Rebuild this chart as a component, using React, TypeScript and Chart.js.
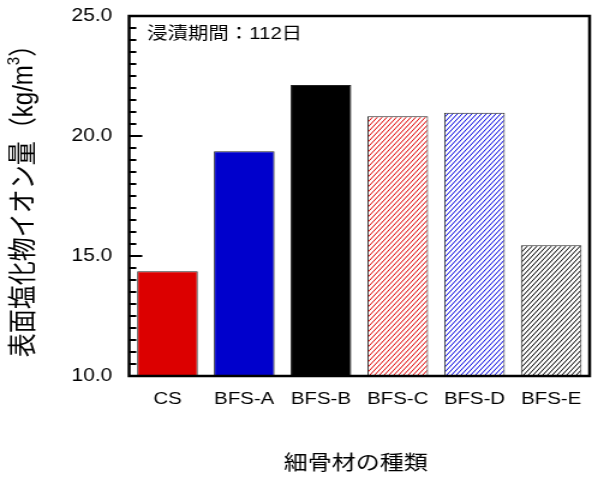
import React, { useEffect, useRef } from 'react';
import { Chart, registerables } from 'chart.js';

Chart.register(...registerables);

// ---- data ----
const categories = ['CS', 'BFS-A', 'BFS-B', 'BFS-C', 'BFS-D', 'BFS-E'];
const values = [14.36, 19.36, 22.13, 20.82, 20.97, 15.45];
const barColors = ['#dc0000', '#0000cc', '#000000', '#e00000', '#0000e0', '#000000'];
const barHatched = [false, false, false, true, true, true];
const yMin = 10;
const yMax = 25;
const yMinorStep = 0.5;
const yMajorTicks = [10, 15, 20, 25];
const yTickLabels = ['10.0', '15.0', '20.0', '25.0'];
const xTitle = '細骨材の種類';
const yTitleMain = '表面塩化物イオン量（kg/m';
const yTitleSup = '3';
const yTitleEnd = '）';
const note = '浸漬期間：112日';

// ---- layout ----
const W = 592;
const H = 481;
const STRETCH = 1.2;
const IW = Math.round(W / STRETCH);
const FONT = "'Liberation Sans', Arial, 'Noto Sans CJK JP', sans-serif";

function makeHatch(color: string): CanvasPattern | string {
  const c = document.createElement('canvas');
  const w = 4;
  const h = 5;
  c.width = w;
  c.height = h;
  const g = c.getContext('2d');
  if (!g) return color;
  g.fillStyle = '#ffffff';
  g.fillRect(0, 0, w, h);
  g.strokeStyle = color;
  g.lineWidth = 1;
  g.beginPath();
  for (let k = -1; k <= 1; k++) {
    g.moveTo(k * w, h);
    g.lineTo(k * w + w, 0);
  }
  g.stroke();
  return g.createPattern(c, 'repeat') || color;
}

const framePlugin = {
  id: 'framePlugin',
  afterDraw(chart: any) {
    const { ctx, chartArea: a, scales } = chart;
    const y = scales.y;
    ctx.save();
    ctx.strokeStyle = '#000';
    ctx.lineWidth = 2.5;
    ctx.beginPath();
    ctx.rect(a.left, a.top, a.right - a.left, a.bottom - a.top);
    ctx.stroke();
    ctx.lineWidth = 2;
    y.ticks.forEach((t: any) => {
      const py = y.getPixelForValue(t.value);
      const major = yMajorTicks.some((m) => Math.abs(m - t.value) < 1e-6);
      ctx.beginPath();
      ctx.moveTo(a.left, py);
      ctx.lineTo(a.left + (major ? 11 : 6), py);
      ctx.stroke();
    });

    ctx.fillStyle = '#000';
    // note
    ctx.font = `17px ${FONT}`;
    ctx.textAlign = 'left';
    ctx.textBaseline = 'middle';
    ctx.fillText(note, a.left + 15, 34);

    // x title
    ctx.font = `20px ${FONT}`;
    ctx.textAlign = 'center';
    ctx.fillText(xTitle, (a.left + a.right) / 2 - 3, 464);

    // y title (rotated)
    ctx.save();
    ctx.translate(20, 195);
    ctx.rotate(-Math.PI / 2);
    ctx.font = `24px ${FONT}`;
    const wMain = ctx.measureText(yTitleMain).width;
    ctx.font = `15px ${FONT}`;
    const wSup = ctx.measureText(yTitleSup).width;
    ctx.font = `24px ${FONT}`;
    const wEnd = ctx.measureText(yTitleEnd).width;
    const total = wMain + wSup + wEnd;
    let x0 = -total / 2;
    ctx.textAlign = 'left';
    ctx.textBaseline = 'middle';
    ctx.fillText(yTitleMain, x0, 0);
    x0 += wMain;
    ctx.font = `15px ${FONT}`;
    ctx.fillText(yTitleSup, x0, -8);
    x0 += wSup;
    ctx.font = `24px ${FONT}`;
    ctx.fillText(yTitleEnd, x0, 0);
    ctx.restore();

    ctx.restore();
  },
};

export default function App() {
  const ref = useRef<HTMLCanvasElement | null>(null);

  useEffect(() => {
    document.body.style.margin = '0';
    const canvas = ref.current;
    if (!canvas) return;
    const fills = barColors.map((c, i) => (barHatched[i] ? makeHatch(c) : c));
    const chart = new Chart(canvas, {
      type: 'bar',
      data: {
        labels: categories,
        datasets: [
          {
            data: values,
            backgroundColor: fills as any,
            borderColor: '#222',
            borderWidth: 1,
            barPercentage: 0.79,
            categoryPercentage: 1,
          },
        ],
      },
      options: {
        responsive: false,
        animation: false,
        devicePixelRatio: 1,
        layout: { padding: { top: 16, right: 2, left: 0, bottom: 0 } },
        plugins: {
          legend: { display: false },
          tooltip: { enabled: false },
          title: { display: false },
        },
        scales: {
          x: {
            grid: { display: false, drawTicks: false, tickLength: 0 },
            border: { display: false },
            ticks: {
              color: '#000',
              font: { family: FONT, size: 17 },
              padding: 13,
              maxRotation: 0,
              autoSkip: false,
            },
            afterFit: (s: any) => {
              s.height = 105;
              s.paddingLeft = 0;
              s.paddingRight = 0;
            },
          },
          y: {
            min: yMin,
            max: yMax,
            grid: { display: false, drawTicks: false, tickLength: 0 },
            border: { display: false },
            ticks: {
              stepSize: yMinorStep,
              autoSkip: false,
              color: '#000',
              font: { family: FONT, size: 17.5 },
              padding: 14,
              callback: (v: any) => {
                const i = yMajorTicks.findIndex((m) => Math.abs(m - Number(v)) < 1e-6);
                return i >= 0 ? yTickLabels[i] : '';
              },
            },
            afterFit: (s: any) => {
              s.width = 107.5;
              s.paddingTop = 0;
              s.paddingBottom = 0;
            },
          },
        },
      },
      plugins: [framePlugin],
    });
    return () => chart.destroy();
  }, []);

  return (
    <div style={{ position: 'fixed', left: 0, top: 0, width: W, height: H, background: '#fff' }}>
      <canvas
        ref={ref}
        width={IW}
        height={H}
        style={{ width: `${W}px`, height: `${H}px`, display: 'block' }}
      />
    </div>
  );
}
